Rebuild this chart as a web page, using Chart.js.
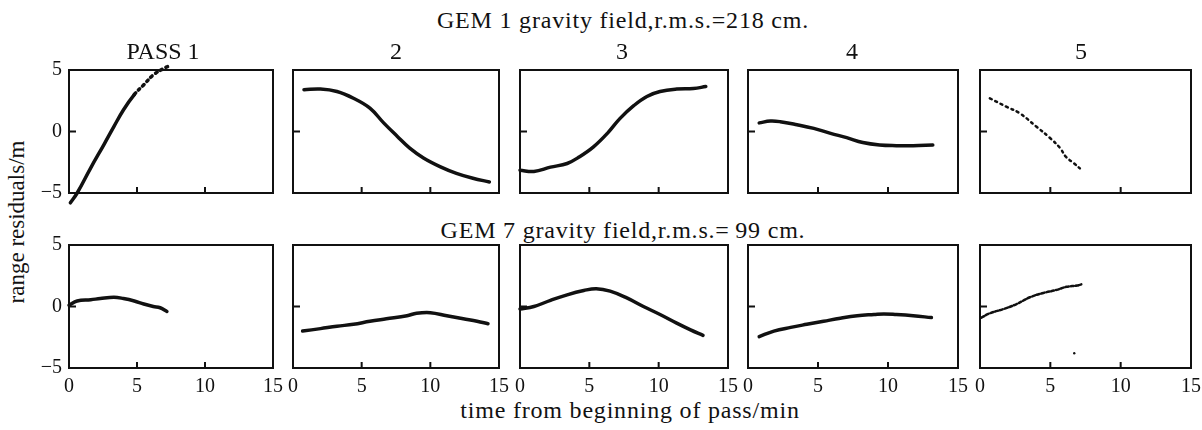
<!DOCTYPE html>
<html>
<head>
<meta charset="utf-8">
<script src="https://cdn.jsdelivr.net/npm/chart.js@4.4.1/dist/chart.umd.min.js"></script>
<style>
  html, body { margin: 0; padding: 0; background: #fff; }
  #page { position: relative; width: 1202px; height: 430px; overflow: hidden; }
  #page canvas { position: absolute; }
  .txt {
    position: absolute; white-space: nowrap; color: #111;
    font-family: "Liberation Serif", serif; line-height: 1;
  }
</style>
</head>
<body>
<div id="page">
  <div class="txt" id="title1" style="left:623px; top:8px; font-size:24px; letter-spacing:0.8px; transform:translateX(-50%);">GEM 1 gravity field,r.m.s.=218 cm.</div>
  <div class="txt" id="title2" style="left:623px; top:218px; font-size:24px; letter-spacing:0.8px; transform:translateX(-50%);">GEM 7 gravity field,r.m.s.=&thinsp;99 cm.</div>
  <div class="txt" id="xlabel" style="left:630px; top:398px; font-size:24px; letter-spacing:0.8px; transform:translateX(-50%);">time from beginning of pass/min</div>
  <div class="txt" id="ylabel" style="left:16px; top:222px; font-size:23px; transform:translate(-50%,-50%) rotate(-90deg);">range residuals/m</div>
</div>
<script>
// ---- data (time in min, residual in m) ----
const passLabels = ['PASS 1', '2', '3', '4', '5'];
const xTicks = [0, 5, 10, 15];
const yTicks = [-5, 0, 5];

// GEM 1 gravity field
const gem1Pass1 = [[0.1,-5.8],[0.6,-5.0],[1.6,-2.95],[2.6,-1.0],[3.3,0.4],[4.0,1.75],[4.8,3.0],[5.5,3.8],[6.2,4.6],[7.0,5.15],[7.3,5.3]];
const gem1Pass2 = [[0.8,3.4],[2.0,3.45],[3.2,3.25],[4.4,2.7],[5.6,1.9],[6.6,0.7],[7.6,-0.4],[8.5,-1.35],[9.5,-2.15],[10.7,-2.85],[11.9,-3.4],[13.1,-3.8],[14.3,-4.1]];
const gem1Pass3 = [[0,-3.15],[1.0,-3.25],[2.2,-2.9],[3.4,-2.6],[4.3,-2.05],[5.3,-1.25],[6.3,-0.15],[7.2,1.05],[8.2,2.1],[9.15,2.85],[10.1,3.25],[11.3,3.45],[12.5,3.5],[13.4,3.65]];
const gem1Pass4 = [[0.8,0.7],[1.6,0.85],[2.3,0.8],[3.5,0.55],[4.7,0.25],[5.9,-0.15],[7.05,-0.5],[8.2,-0.9],[9.4,-1.1],[10.6,-1.15],[11.8,-1.15],[13.2,-1.1]];
const gem1Pass5 = [[0.7,2.7],[1.9,2.0],[2.8,1.5],[4.0,0.4],[5.0,-0.55],[5.7,-1.35],[6.1,-2.05],[6.7,-2.6],[7.1,-3.0]];

// GEM 7 gravity field
const gem7Pass1 = [[0,0.1],[0.6,0.45],[1.6,0.55],[2.3,0.65],[3.3,0.75],[4.0,0.65],[4.8,0.45],[5.5,0.2],[6.2,0.0],[6.7,-0.1],[7.2,-0.4]];
const gem7Pass2 = [[0.7,-2.0],[2.0,-1.8],[3.2,-1.6],[4.4,-1.45],[5.6,-1.2],[6.8,-1.0],[8.3,-0.75],[9.0,-0.55],[10.0,-0.5],[11.2,-0.75],[12.4,-1.0],[13.4,-1.2],[14.2,-1.4]];
const gem7Pass3 = [[0,-0.2],[1.0,0.0],[2.2,0.5],[3.4,0.95],[4.6,1.3],[5.5,1.45],[6.5,1.25],[7.7,0.7],[8.9,0.0],[10.1,-0.65],[11.3,-1.35],[12.3,-1.9],[13.2,-2.35]];
const gem7Pass4 = [[0.8,-2.45],[1.85,-2.0],[3.05,-1.7],[4.2,-1.45],[5.4,-1.2],[6.6,-0.95],[7.8,-0.75],[9.0,-0.65],[9.7,-0.6],[10.6,-0.65],[11.8,-0.75],[13.1,-0.9]];
const gem7Pass5 = [[0.1,-0.9],[0.7,-0.55],[1.7,-0.2],[2.6,0.2],[3.55,0.75],[4.5,1.1],[5.45,1.35],[6.15,1.6],[6.9,1.7],[7.2,1.8]];
const gem7Pass5Stray = [[6.7,-3.8]];

const rows = [
  [gem1Pass1, gem1Pass2, gem1Pass3, gem1Pass4, gem1Pass5],
  [gem7Pass1, gem7Pass2, gem7Pass3, gem7Pass4, gem7Pass5]
];

// ---- panel placement (plot box in page pixels) ----
const colLeft = [69, 293, 520, 748, 980];
const colWidth = [204, 206, 208, 210, 211];
const headCenter = [163, 396, 622, 852, 1081];
const rowTop = [70, 245];
const plotH = 123;
const padL = 50, padT = 10, padR = 20, padB = 45;

const ink = '#111';
const serif = 'Liberation Serif';

// frame + inward tick marks
const framePlugin = {
  id: 'frame',
  afterDatasetsDraw(chart) {
    const { ctx, chartArea: a, scales } = chart;
    ctx.save();
    ctx.strokeStyle = ink;
    ctx.lineWidth = 2;
    ctx.strokeRect(a.left, a.top, a.right - a.left, a.bottom - a.top);
    ctx.beginPath();
    [5, 10].forEach(v => {
      const px = scales.x.getPixelForValue(v);
      ctx.moveTo(px, a.bottom);
      ctx.lineTo(px, a.bottom - 6);
    });
    const py = scales.y.getPixelForValue(0);
    ctx.moveTo(a.left, py);
    ctx.lineTo(a.left + 7, py);
    ctx.stroke();
    ctx.restore();
  }
};

function toXY(arr) {
  return arr.map(p => ({ x: p[0], y: p[1] }));
}

const page = document.getElementById('page');

rows.forEach((row, r) => {
  row.forEach((series, c) => {
    const cv = document.createElement('canvas');
    const w = colWidth[c] + padL + padR;
    const h = plotH + padT + padB;
    cv.width = w; cv.height = h;
    cv.style.left = (colLeft[c] - padL) + 'px';
    cv.style.top = (rowTop[r] - padT) + 'px';
    cv.style.width = w + 'px';
    cv.style.height = h + 'px';
    page.appendChild(cv);

    const sparse = c === 4;
    const datasets = [{
      data: toXY(series),
      showLine: true,
      borderColor: ink,
      backgroundColor: ink,
      borderWidth: sparse ? 2.5 : 3.5,
      borderDash: sparse ? (r === 0 ? [2, 4] : [3, 2]) : [],
      borderCapStyle: 'round',
      pointRadius: 0,
      tension: 0.4,
      clip: false,
      segment: (r === 0 && c === 0) ? {
        borderDash: ctx => ctx.p0.parsed.x >= 4.8 ? [2, 4] : undefined
      } : {}
    }];
    if (r === 1 && c === 4) {
      datasets.push({
        data: toXY(gem7Pass5Stray),
        showLine: false,
        pointRadius: 1.2,
        backgroundColor: ink,
        borderWidth: 0
      });
    }

    new Chart(cv, {
      type: 'scatter',
      data: { datasets },
      options: {
        responsive: false,
        animation: false,
        devicePixelRatio: 1,
        layout: { padding: { left: 0, top: padT, right: padR, bottom: 0 } },
        plugins: { legend: { display: false }, tooltip: { enabled: false } },
        scales: {
          x: {
            type: 'linear', min: 0, max: 15,
            grid: { display: false, drawTicks: false },
            border: { display: false },
            afterBuildTicks: s => { s.ticks = xTicks.map(v => ({ value: v })); },
            ticks: {
              display: r === 1,
              padding: 7,
              color: ink,
              maxRotation: 0,
              autoSkip: false,
              font: { family: serif, size: 20 }
            },
            afterFit: s => { s.height = padB; s.paddingLeft = 0; s.paddingRight = 0; }
          },
          y: {
            type: 'linear', min: -5, max: 5,
            grid: { display: false, drawTicks: false },
            border: { display: false },
            afterBuildTicks: s => { s.ticks = yTicks.map(v => ({ value: v })); },
            ticks: {
              display: c === 0,
              padding: 7,
              color: ink,
              autoSkip: false,
              font: { family: serif, size: 20 },
              callback: v => String(v).replace('-', '\u2212')
            },
            afterFit: s => { s.width = padL; s.paddingTop = 0; s.paddingBottom = 0; }
          }
        }
      },
      plugins: [framePlugin]
    });
  });
});

// column headings
passLabels.forEach((lab, c) => {
  const d = document.createElement('div');
  d.className = 'txt';
  d.textContent = lab;
  d.style.fontSize = '24px';
  d.style.left = headCenter[c] + 'px';
  d.style.top = '39px';
  d.style.transform = 'translateX(-50%)';
  page.appendChild(d);
});
</script>
</body>
</html>
